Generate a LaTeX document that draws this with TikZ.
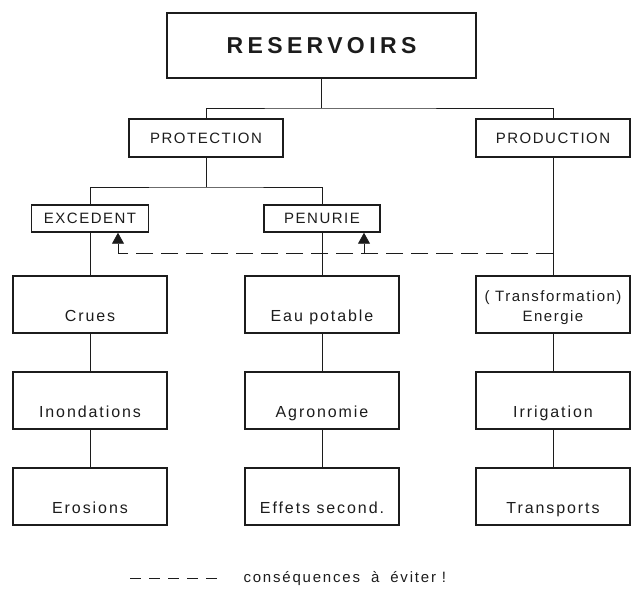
\documentclass[tikz,border=0pt]{standalone}
\usepackage{fontspec}
\setmainfont{Liberation Sans}[LetterSpace=12]
\newfontfamily\capfont{Liberation Sans}[LetterSpace=10]
\newfontfamily\titlefont{Liberation Sans}[LetterSpace=19]
\usetikzlibrary{arrows.meta,calc}
\definecolor{ink}{HTML}{1C1C1C}

\begin{document}
\begin{tikzpicture}[x=1pt,y=-1pt,
  every node/.style={text=ink},
  box/.style={draw=ink,line width=1.5pt,inner sep=0pt},
  capbox/.style={box,minimum width=154pt,minimum height=38pt,font=\capfont\fontsize{15}{18}\selectfont},
  smallbox/.style={box,minimum height=27pt,font=\capfont\fontsize{15}{18}\selectfont},
  lowbox/.style={box,minimum width=154pt,minimum height=57pt,text height=45pt,text depth=12pt,
    font=\fontsize{16}{20}\selectfont},
  link/.style={draw=ink,line width=0.8pt},
  conseq/.style={link,dash pattern=on 17pt off 8pt},
  up/.style={link,-{Triangle[length=11pt,width=12pt]}}]
\useasboundingbox (0,0) rectangle (631,593);

% top
\node (res) at (321.5,45.5)[box,minimum width=309pt,minimum height=65pt,
  font=\titlefont\bfseries\fontsize{23}{26}\selectfont]{RESERVOIRS};
\coordinate (j1) at (321.5,108);

\node (prot) at (206,138)[capbox]{PROTECTION};
\node (prod) at (553,138)[capbox]{PRODUCTION};
\coordinate (j2) at (206,187);

\node (exc) at (90,218.5)[smallbox,minimum width=117pt]{EXCEDENT};
\node (pen) at (322,218.5)[smallbox,minimum width=116pt]{PENURIE};

% columns
\node (crues) at (90,304.5)[lowbox]{Crues};
\node (inond) at (90,400.5)[lowbox]{Inondations};
\node (eros)  at (90,496.5)[lowbox]{Erosions};

\node (eau)    at (322,304.5)[lowbox]{Eau potable};
\node (agro)   at (322,400.5)[lowbox]{Agronomie};
\node (effets) at (322,496.5)[lowbox]{Effets second.};

\node (energ)  at (553,304.5)[lowbox,align=center,font=\capfont\fontsize{15}{20}\selectfont]
  {( Transformation)\\Energie};
\node (irrig)  at (553,400.5)[lowbox]{Irrigation};
\node (transp) at (553,496.5)[lowbox]{Transports};

% tree
\draw[link] (res) -- (j1);
\draw[link] (prot) |- (j1) -| (prod);
\draw[link] (prot) -- (j2);
\draw[link] (exc) |- (j2) -| (pen);
\draw[link] (exc) -- (crues) -- (inond) -- (eros);
\draw[link] (pen) -- (eau) -- (agro) -- (effets);
\draw[link] (prod) -- (energ) -- (irrig) -- (transp);

% consequences
\coordinate (dr) at (553,253);
\coordinate (dm) at (364,253);
\coordinate (dl) at (118,253);
\draw[conseq] (dr) -- (dl);
\draw[up] (dl) -- (dl |- exc.south);
\draw[up] (dm) -- (dm |- pen.south);

% legend
\node (leg) at (240,582)[anchor=base west,font=\fontsize{15}{18}\selectfont]
  {conséquences\hspace{5pt} à\hspace{5pt} éviter !};
\coordinate (legl) at (130,578);
\draw[link,dash pattern=on 11pt off 8pt] (legl) -- ++(87,0);
\end{tikzpicture}
\end{document}
